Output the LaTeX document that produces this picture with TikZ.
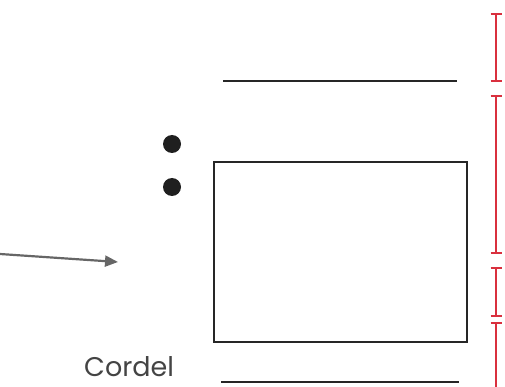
\documentclass[tikz,border=0pt]{standalone}
\usepackage{fontspec}
\setmainfont{Poppins}
\usetikzlibrary{arrows.meta}
\definecolor{bred}{HTML}{D9303E}
\definecolor{arrowgray}{HTML}{666666}
\definecolor{txtgray}{HTML}{444444}
\tikzset{
  blk/.style={draw=black!85, line width=1.8pt},
  dimbar/.style={draw=bred, line width=1.7pt},
  capbar/.style={draw=bred, line width=1.7pt},
  dotmark/.style={circle, fill=black!88, minimum size=18pt, inner sep=0pt},
}
\begin{document}
\begin{tikzpicture}[x=1pt,y=-1pt]
\useasboundingbox (0,0) rectangle (505,387);
% horizontal lines
\coordinate (t1) at (223,81); \coordinate (t2) at (457,81);
\draw[blk] (t1) -- (t2);
\coordinate (b1) at (221,382); \coordinate (b2) at (459,382);
\draw[blk] (b1) -- (b2);
% rectangle
\node[draw=black!85, line width=1.9pt, minimum width=253pt, minimum height=180pt, inner sep=0pt] (box) at (340.5,252) {};
% dots
\node[dotmark] (d1) at (172,144) {};
\node[dotmark] (d2) at (172,187) {};
% arrow
\coordinate (as) at (0,254);
\coordinate (ae) at (118,262);
\draw[arrowgray, line width=2.2pt, -{Triangle[length=13pt,width=11pt]}] (as) -- (ae);
% text
\node[anchor=base west, text=txtgray, font=\fontsize{27}{31}\selectfont, inner sep=0pt] (cordel) at (84,376) {Cordel};
% red dimension brackets
\foreach \a/\b/\n in {14/81/1, 96/253/2, 268/316/3}{
  \coordinate (r\n a) at (496,\a); \coordinate (r\n b) at (496,\b);
  \draw[dimbar] (r\n a) -- (r\n b);
  \draw[capbar] (490.5,\a) -- (501.5,\a);
  \draw[capbar] (490.5,\b) -- (501.5,\b);
}
\coordinate (r4a) at (496,323); \coordinate (r4b) at (496,387);
\draw[dimbar] (r4a) -- (r4b);
\draw[capbar] (490.5,323) -- (501.5,323);
\end{tikzpicture}
\end{document}
